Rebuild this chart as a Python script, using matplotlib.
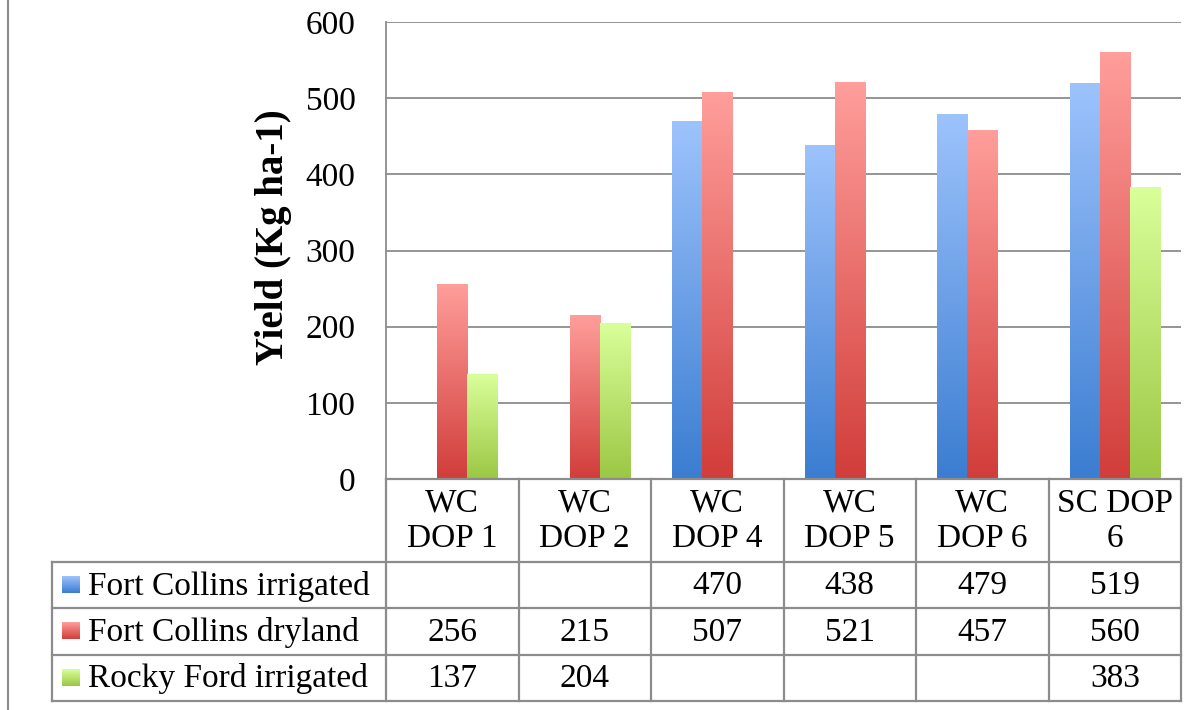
import numpy as np
import matplotlib
matplotlib.use("Agg")
import matplotlib.pyplot as plt
from matplotlib.colors import LinearSegmentedColormap

# ----------------------------
# data
# ----------------------------
categories = ["WC\nDOP 1", "WC\nDOP 2", "WC\nDOP 4", "WC\nDOP 5", "WC\nDOP 6", "SC DOP\n6"]
series_names = ["Fort Collins irrigated", "Fort Collins dryland", "Rocky Ford irrigated"]
fc_irrigated = [None, None, 470, 438, 479, 519]
fc_dryland = [256, 215, 507, 521, 457, 560]
rf_irrigated = [137, 204, None, None, None, 383]
y_ticks = [0, 100, 200, 300, 400, 500, 600]

series = [fc_irrigated, fc_dryland, rf_irrigated]
# gradient colours, top -> bottom
grads = [("#9dc3fc", "#3b7dd1"), ("#ff9e9b", "#d13d3a"), ("#d9ff9a", "#9bc744")]

FONT = "Liberation Serif"
FS = 24
GRID = "#8c8c8c"

W, H = 1202, 710
fig = plt.figure(figsize=(W / 100, H / 100), dpi=100)


def px_axes(x0, y0, x1, y1):
    # pixel box (top-left origin) -> figure axes
    return fig.add_axes([x0 / W, 1 - y1 / H, (x1 - x0) / W, (y1 - y0) / H])


ax = px_axes(386, 22, 1181, 479)
n = len(categories)
x = np.arange(n)
bw = 0.227
offs = [-bw, 0, bw]

for s, vals in enumerate(series):
    cmap = LinearSegmentedColormap.from_list(f"g{s}", [grads[s][1], grads[s][0]])
    xs = [xi + offs[s] for xi, v in zip(x, vals) if v is not None]
    hs = [v for v in vals if v is not None]
    bars = ax.bar(xs, hs, width=bw, color=grads[s][1], zorder=2)
    for b in bars:
        x0, w, h = b.get_x(), b.get_width(), b.get_height()
        ax.imshow(np.linspace(0, 1, 256).reshape(-1, 1), cmap=cmap, origin="lower",
                  extent=[x0, x0 + w, 0, h], aspect="auto", zorder=3, interpolation="bilinear")

ax.set_xlim(-0.5, n - 0.5)
ax.set_ylim(0, 600)
ax.set_yticks(y_ticks)
ax.set_yticklabels([str(t) for t in y_ticks], fontfamily=FONT, fontsize=FS)
ax.tick_params(axis="y", length=0, pad=22)
ax.set_xticks([])
ax.grid(axis="y", color=GRID, linewidth=1.3, zorder=0)
for side in ["top", "right", "bottom"]:
    ax.spines[side].set_visible(False)
ax.spines["left"].set_color(GRID)
ax.spines["left"].set_linewidth(1.3)

fig.text(274 / W, 1 - 237 / H, "Yield (Kg ha-1)", rotation=90, ha="center", va="center",
         fontfamily=FONT, fontsize=28, fontweight="bold")

# ----------------------------
# data table
# ----------------------------
tax = px_axes(386, 479, 1181, 701)
tax.set_xlim(-0.5, n - 0.5)
tax.set_ylim(222, 0)
tax.axis("off")
row_edges = [0, 83, 129, 176, 222]
left = -0.5 - (386 - 52) / (795 / n)
lw = 1.6

# vertical lines
for k in range(n + 1):
    tax.plot([k - 0.5, k - 0.5], [0, 222], color=GRID, lw=lw, clip_on=False)
tax.plot([left, left], [row_edges[1], 222], color=GRID, lw=lw, clip_on=False)
# horizontal lines
tax.plot([-0.5, n - 0.5], [0, 0], color=GRID, lw=lw, clip_on=False)
for r in row_edges[1:]:
    tax.plot([left, n - 0.5], [r, r], color=GRID, lw=lw, clip_on=False)

for i, c in enumerate(categories):
    tax.text(i, 42, c, ha="center", va="center", fontfamily=FONT, fontsize=FS,
             linespacing=1.2)

for s, vals in enumerate(series):
    yc = (row_edges[s + 1] + row_edges[s + 2]) / 2
    for i, v in enumerate(vals):
        if v is not None:
            tax.text(i, yc + 1, str(v), ha="center", va="center", fontfamily=FONT, fontsize=FS)
    # legend key
    cmap = LinearSegmentedColormap.from_list(f"k{s}", [grads[s][1], grads[s][0]])
    kx0 = left + 10 / (795 / n)
    kx1 = left + 28 / (795 / n)
    tax.imshow(np.linspace(0, 1, 64).reshape(-1, 1), cmap=cmap, origin="lower",
               extent=[kx0, kx1, yc + 8, yc - 9], aspect="auto", clip_on=False, zorder=3)
    tax.text(left + 36 / (795 / n), yc + 1, series_names[s], ha="left", va="center",
             fontfamily=FONT, fontsize=FS)

tax.set_xlim(-0.5, n - 0.5)
tax.set_ylim(222, 0)

# chart border on the left
fig.add_artist(plt.Line2D([7.5 / W, 7.5 / W], [0, 1], color=GRID, lw=1.5))

fig.savefig("out.png", dpi=100)
